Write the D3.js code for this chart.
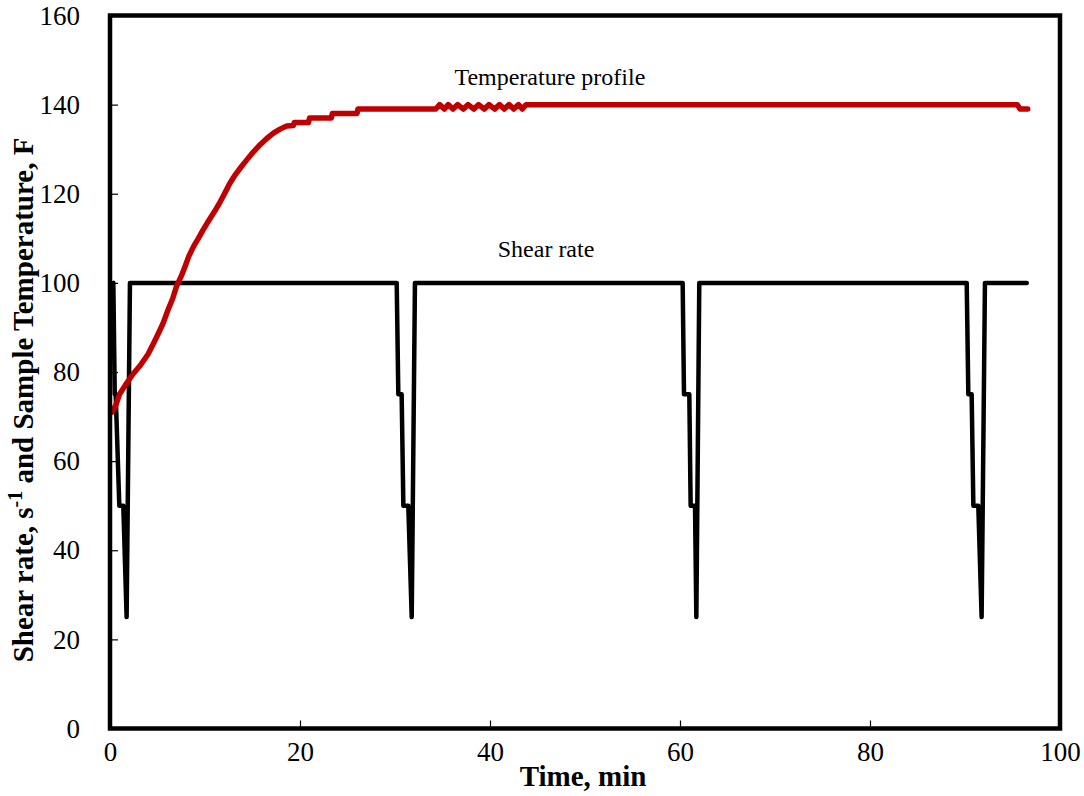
<!DOCTYPE html>
<html>
<head>
<meta charset="utf-8">
<script src="https://cdn.jsdelivr.net/npm/d3@7"></script>
<style>
  html, body { margin: 0; padding: 0; background: #fff; }
  svg { display: block; }
  text { font-family: "Liberation Serif", "Times New Roman", serif; fill: #000; }
</style>
</head>
<body>
<svg id="chart" width="1084" height="796"></svg>
<script>
// ---- data ----
const xTicks = [0, 20, 40, 60, 80, 100];
const yTicks = [0, 20, 40, 60, 80, 100, 120, 140, 160];

const shearTime = [
  0.35, 0.5, 0.6, 0.98, 1.4, 1.75, 2.1,
  30.18, 30.35, 30.7, 30.88, 31.4, 31.76, 32.1,
  60.28, 60.42, 60.98, 61.12, 61.58, 61.72, 62.03,
  90.18, 90.35, 90.7, 90.88, 91.4, 91.75, 92.1,
  96.5
];
const shearRate = [
  100, 75, 75, 50, 50, 25, 100,
  100, 75, 75, 50, 50, 25, 100,
  100, 75, 75, 50, 50, 25, 100,
  100, 75, 75, 50, 50, 25, 100,
  100
];

const tempTime = [
  0.2, 0.6, 1.0, 1.6, 2.4, 3.2, 4.0, 4.6, 5.1, 5.6, 6.1, 6.6, 7.0, 7.5, 7.9,
  8.3, 8.8, 9.3, 9.8, 10.4, 11.0, 11.6, 12.1, 12.6, 13.2, 13.8, 14.4, 15.1,
  15.8, 16.5, 17.2, 17.9, 18.6, 19.3, 19.4, 20.9, 21.0, 23.3, 23.4, 26.0, 26.1,
  34.3, 34.7, 35.2, 35.6, 36.1, 36.6, 37.2, 37.7, 38.3, 38.8, 39.4, 39.9, 40.5,
  41.0, 41.5, 42.0, 42.5, 43.0, 43.4, 43.8,
  95.5, 95.8, 96.6
];
const tempValue = [
  71, 72.5, 75, 77, 79.5, 81.5, 84, 86.5, 88.7, 91, 93.9, 96.5, 99.2, 101.5, 103.7,
  106, 108.2, 110, 111.9, 114, 116, 118.2, 120.2, 122.3, 124.3, 126, 127.6, 129.4,
  131, 132.4, 133.6, 134.5, 135.2, 135.3, 136, 136, 137, 137, 138, 138, 139,
  139, 140, 139, 140, 139, 140, 139, 140, 139, 140, 139, 140, 139,
  140, 139, 140, 139, 140, 139, 140,
  140, 139, 139
];

const xTitle = "Time, min";
const tempLabel = "Temperature profile";
const shearLabel = "Shear rate";

// ---- layout ----
const svg = d3.select("#chart");
const mLeft = 110, mRight = 1060, mTop = 15.5, mBottom = 728.5;

const x = d3.scaleLinear().domain([0, 100]).range([mLeft, mRight]);
const y = d3.scaleLinear().domain([0, 160]).range([mBottom, mTop]);

// ticks (inside)
const yAxis = d3.axisLeft(y).tickValues(yTicks).tickSizeInner(-8).tickSizeOuter(0).tickPadding(30);
const xAxis = d3.axisBottom(x).tickValues(xTicks).tickSizeInner(-8).tickSizeOuter(0).tickPadding(13);

const gy = svg.append("g").attr("transform", `translate(${mLeft},0)`).call(yAxis);
const gx = svg.append("g").attr("transform", `translate(0,${mBottom})`).call(xAxis);
[gy, gx].forEach(g => {
  g.attr("font-family", null);
  g.select(".domain").remove();
  g.selectAll(".tick line").attr("stroke", "#000").attr("stroke-width", 1.2);
  g.selectAll(".tick text").style("font-family", '"Liberation Serif", serif').style("font-size", "27px").attr("fill", "#000");
});
gx.selectAll(".tick text").attr("dy", "0.71em");

// lines
const line = d3.line().x(d => x(d[0])).y(d => y(d[1]));
const shearData = shearTime.map((t, i) => [t, shearRate[i]]);
const tempData = tempTime.map((t, i) => [t, tempValue[i]]);

svg.append("path").datum(shearData).attr("d", line)
  .attr("fill", "none").attr("stroke", "#000").attr("stroke-width", 4.5)
  .attr("stroke-linejoin", "round").attr("stroke-linecap", "round");

svg.append("path").datum(tempData).attr("d", line)
  .attr("fill", "none").attr("stroke", "#C00000").attr("stroke-width", 5.5)
  .attr("stroke-linejoin", "round").attr("stroke-linecap", "round");

// frame
svg.append("rect").attr("x", mLeft).attr("y", mTop)
  .attr("width", mRight - mLeft).attr("height", mBottom - mTop)
  .attr("fill", "none").attr("stroke", "#000").attr("stroke-width", 4.5);

// annotations
svg.append("text").attr("x", x(46.3)).attr("y", y(144.4)).attr("text-anchor", "middle")
  .style("font-size", "24px").text(tempLabel);
svg.append("text").attr("x", x(45.9)).attr("y", y(105.7)).attr("text-anchor", "middle")
  .style("font-size", "24px").text(shearLabel);

// axis titles
svg.append("text").attr("x", 583).attr("y", 786).attr("text-anchor", "middle")
  .style("font-size", "29px").style("font-weight", "bold").text(xTitle);

const yt = svg.append("text").attr("transform", "translate(33,400) rotate(-90)")
  .attr("text-anchor", "middle").style("font-size", "29px").style("font-weight", "bold");
yt.append("tspan").text("Shear rate, s");
yt.append("tspan").attr("dy", -11).style("font-size", "20px").text("-1");
yt.append("tspan").attr("dy", 11).text(" and Sample Temperature, F");
</script>
</body>
</html>
